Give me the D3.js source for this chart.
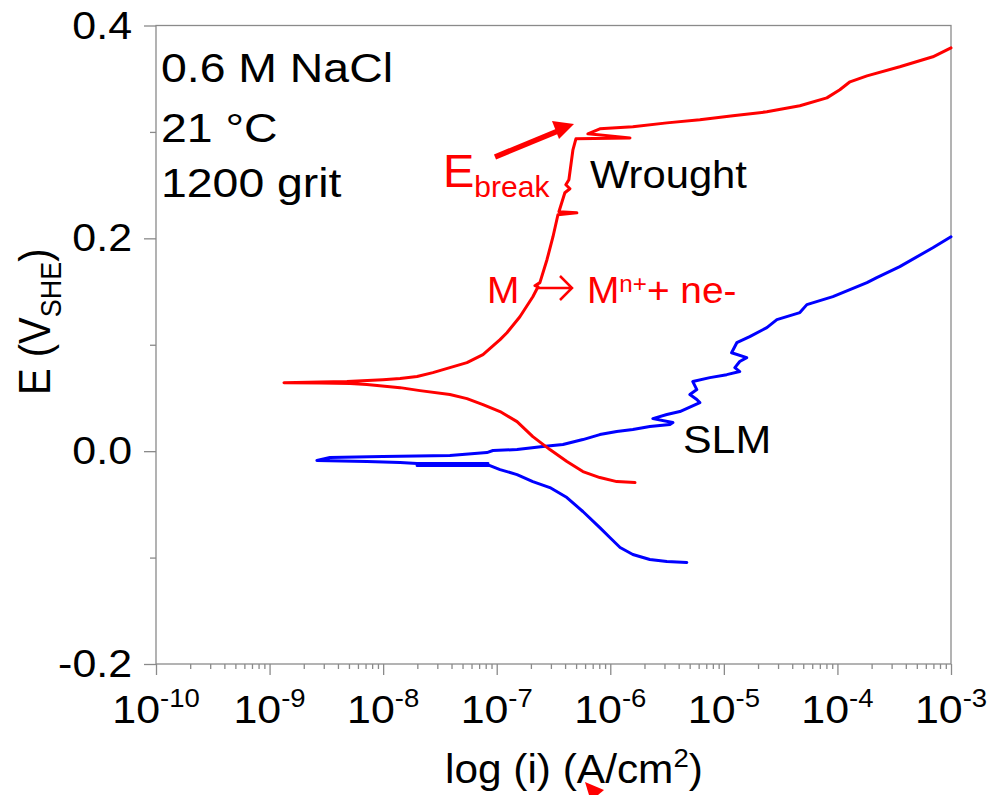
<!DOCTYPE html>
<html>
<head>
<meta charset="utf-8">
<script src="https://cdn.jsdelivr.net/npm/d3@7"></script>
<style>
  html, body { margin: 0; padding: 0; background: #fff; }
  svg { display: block; font-family: "Liberation Sans", Arial, sans-serif; }
</style>
</head>
<body>
<div id="chart"></div>
<script>
// Wrought: current density (A/cm2) and potential (V SHE), cathodic end -> anodic end
var wroughtI = [1.65e-6, 1.14e-6, 8.09e-7, 5.74e-7, 4.15e-7, 2.94e-7, 2.08e-7, 1.51e-7, 1.07e-7, 7.57e-8,
  5.47e-8, 3.87e-8, 2.11e-8, 1.41e-8, 7.19e-9, 5.11e-9, 2.78e-9, 1.34e-9, 2.78e-9, 4.80e-9,
  9.95e-9, 1.41e-8, 1.99e-8, 2.74e-8, 3.87e-8, 5.47e-8, 7.57e-8, 1.07e-7, 1.23e-7, 1.60e-7,
  2.08e-7, 2.31e-7, 2.17e-7, 2.40e-7, 2.77e-7, 3.13e-7, 3.46e-7, 5.08e-7, 3.53e-7, 3.98e-7,
  4.41e-7, 4.06e-7, 4.32e-7, 4.69e-7, 4.98e-7, 1.49e-6, 6.35e-7, 8.09e-7, 1.58e-6, 3.15e-6,
  6.15e-6, 1.20e-5, 2.39e-5, 4.67e-5, 8.07e-5, 1.05e-4, 1.29e-4, 1.82e-4, 3.54e-4, 6.92e-4, 1.0e-3];
var wroughtE = [-0.0295, -0.0286, -0.0248, -0.0192, -0.0098, 0.0015, 0.0137, 0.0278, 0.0372, 0.0438,
  0.0494, 0.0532, 0.0569, 0.0597, 0.0626, 0.0635, 0.0640, 0.0644, 0.0649, 0.0654,
  0.0672, 0.0682, 0.0701, 0.0738, 0.0785, 0.0832, 0.0907, 0.1048, 0.1113, 0.1263,
  0.1451, 0.1545, 0.1555, 0.1584, 0.1799, 0.2015, 0.2222, 0.2240, 0.2250, 0.2428,
  0.2466, 0.2504, 0.2551, 0.2832, 0.2935, 0.2944, 0.2982, 0.3029, 0.3048, 0.3085,
  0.3114, 0.3151, 0.3189, 0.3246, 0.3320, 0.3396, 0.3471, 0.3527, 0.3612, 0.3706, 0.3790];

// SLM
var slmI = [4.72e-6, 3.15e-6, 2.23e-6, 1.58e-6, 1.22e-6, 9.91e-7, 8.09e-7, 5.74e-7, 4.15e-7, 2.94e-7,
  2.08e-7, 1.51e-7, 1.07e-7, 8.71e-8, 1.99e-8, 8.38e-8, 1.99e-8, 1.41e-8, 7.19e-9, 2.61e-9,
  3.40e-9, 9.95e-9, 3.87e-8, 8.20e-8, 9.27e-8, 1.51e-7, 2.55e-7, 3.83e-7, 5.74e-7, 8.09e-7,
  1.14e-6, 1.58e-6, 2.23e-6, 3.35e-6, 3.56e-6, 2.37e-6, 3.15e-6, 4.10e-6, 6.15e-6, 5.78e-6,
  5.02e-6, 5.78e-6, 5.33e-6, 7.53e-6, 1.06e-5, 1.38e-5, 1.25e-5, 1.38e-5, 1.59e-5, 1.17e-5,
  1.30e-5, 1.69e-5, 2.39e-5, 2.93e-5, 4.67e-5, 5.38e-5, 9.12e-5, 1.82e-4, 2.22e-4, 3.54e-4,
  6.92e-4, 1.0e-3];
var slmE = [-0.1046, -0.1037, -0.1018, -0.0971, -0.0905, -0.0811, -0.0718, -0.0567, -0.0436, -0.0342,
  -0.0286, -0.0220, -0.0173, -0.0135, -0.0135, -0.0116, -0.0116, -0.0107, -0.0098, -0.0088,
  -0.0060, -0.0051, -0.0041, -0.0013, 0.0006, 0.0015, 0.0043, 0.0062, 0.0109, 0.0156,
  0.0184, 0.0203, 0.0231, 0.0250, 0.0269, 0.0306, 0.0344, 0.0372, 0.0456, 0.0485,
  0.0532, 0.0579, 0.0654, 0.0691, 0.0719, 0.0748, 0.0785, 0.0842, 0.0879, 0.0925,
  0.1019, 0.1076, 0.1161, 0.1236, 0.1302, 0.1377, 0.1452, 0.1583, 0.1630, 0.1734,
  0.1912, 0.2015];

var xMajorExp = [-10, -9, -8, -7, -6, -5, -4, -3];
var yMajor = [0.4, 0.2, 0.0, -0.2];
var yMajorLabels = ['0.4', '0.2', '0.0', '-0.2'];
var yMinor = [0.3, 0.1, -0.1];

(function () {
  var width = 1003, height = 795;
  var sx = 1.1; // the reference text is a little wider than Arial
  var axisColor = '#8a8a8a';
  var red = '#ff0000', blue = '#0000ff';

  var svg = d3.select('#chart').append('svg')
    .attr('width', width).attr('height', height)
    .attr('viewBox', [0, 0, width, height]);

  var x = d3.scaleLog().domain([1e-10, 1e-3]).range([156, 951]);
  var y = d3.scaleLinear().domain([-0.2, 0.4]).range([664, 25.5]);

  var xMinor = [];
  xMajorExp.slice(0, -1).forEach(function (e) {
    for (var k = 2; k <= 9; k++) xMinor.push(k * Math.pow(10, e));
  });

  // Ticks
  var gx = svg.append('g').attr('transform', 'translate(0,' + y(-0.2) + ')');
  gx.append('g').call(d3.axisBottom(x).tickValues(xMinor).tickSize(5).tickFormat(''));
  gx.append('g').call(d3.axisBottom(x).tickValues(xMajorExp.map(function (e) { return Math.pow(10, e); }))
    .tickSize(11).tickFormat(''));
  var gy = svg.append('g').attr('transform', 'translate(' + x(1e-10) + ',0)');
  gy.append('g').call(d3.axisLeft(y).tickValues(yMinor).tickSize(6).tickFormat(''));
  gy.append('g').call(d3.axisLeft(y).tickValues(yMajor).tickSize(12).tickFormat(''));
  svg.selectAll('.domain').remove();
  svg.selectAll('.tick line').attr('stroke', axisColor).attr('stroke-width', 1.3);

  // Frame
  svg.append('rect')
    .attr('x', x(1e-10)).attr('y', y(0.4))
    .attr('width', x(1e-3) - x(1e-10)).attr('height', y(-0.2) - y(0.4))
    .attr('fill', 'none').attr('stroke', axisColor).attr('stroke-width', 1.3);

  function label(px, py, sc, anchor) {
    return svg.append('g').attr('transform', 'translate(' + px + ',' + py + ') scale(' + sc + ',1)')
      .append('text').attr('text-anchor', anchor || 'start');
  }

  // Y tick labels
  yMajor.forEach(function (v, idx) {
    label(132, y(v) + 13, sx, 'end').attr('font-size', 39).attr('fill', '#000').text(yMajorLabels[idx]);
  });

  // X tick labels
  xMajorExp.forEach(function (e) {
    var t = label(x(Math.pow(10, e)), 723, sx, 'middle').attr('font-size', 39).attr('fill', '#000');
    t.append('tspan').text('10');
    t.append('tspan').attr('font-size', 25).attr('dy', -16).text(String(e));
  });

  // Axis titles
  var xt = label(445, 783, 1.06).attr('font-size', 40).attr('fill', '#000');
  xt.append('tspan').text('log (i) (A/cm');
  xt.append('tspan').attr('font-size', 26).attr('dy', -16).text('2');
  xt.append('tspan').attr('dy', 16).text(')');

  var yt = svg.append('g').attr('transform', 'translate(50,395) scale(1.12,1) rotate(-90)')
    .append('text').attr('font-size', 40).attr('fill', '#000');
  yt.append('tspan').text('E (V');
  yt.append('tspan').attr('font-size', 27).attr('dy', 10).text('SHE');
  yt.append('tspan').attr('dy', -10).text(')');

  // Curves
  var line = d3.line()
    .x(function (d) { return x(d[0]); })
    .y(function (d) { return y(d[1]); });

  svg.append('path')
    .datum(d3.zip(slmI, slmE))
    .attr('d', line)
    .attr('fill', 'none').attr('stroke', blue).attr('stroke-width', 3)
    .attr('stroke-linejoin', 'round').attr('stroke-linecap', 'round');

  svg.append('path')
    .datum(d3.zip(wroughtI, wroughtE))
    .attr('d', line)
    .attr('fill', 'none').attr('stroke', red).attr('stroke-width', 3)
    .attr('stroke-linejoin', 'round').attr('stroke-linecap', 'round');

  // Condition notes
  [['0.6 M NaCl', 82], ['21 \u00B0C', 142], ['1200 grit', 197]].forEach(function (n) {
    label(161, n[1], 1.16).attr('font-size', 40).attr('fill', '#000').text(n[0]);
  });

  label(590, 188, 1.07).attr('font-size', 39).attr('fill', '#000').text('Wrought');
  label(683, 453, 1.1).attr('font-size', 39).attr('fill', '#000').text('SLM');

  // E_break label and arrow
  var eb = label(443, 187, 1.0).attr('font-size', 47).attr('fill', red);
  eb.append('tspan').text('E');
  eb.append('tspan').attr('font-size', 30).attr('dy', 10).text('break');
  svg.append('line')
    .attr('x1', 495).attr('y1', 157).attr('x2', 558).attr('y2', 131)
    .attr('stroke', red).attr('stroke-width', 5.5);
  svg.append('path')
    .attr('d', 'M574,124 L552,121 L559,139 Z')
    .attr('fill', red);

  // Reaction label
  var r1 = label(487, 303, 1.05).attr('font-size', 37).attr('fill', red);
  r1.text('M');
  svg.append('path')
    .attr('d', 'M537,288 L572,288 M560,276 L572,288 L560,300')
    .attr('fill', 'none').attr('stroke', red).attr('stroke-width', 2.5);
  var r2 = label(587, 303, 1.05).attr('font-size', 37).attr('fill', red);
  r2.append('tspan').text('M');
  r2.append('tspan').attr('font-size', 23).attr('dy', -11).text('n+');
  r2.append('tspan').attr('dy', 11).text('+ ne-');

  // clipped arrowhead fragment at the bottom edge
  svg.append('path')
    .attr('d', 'M585,782 L604,790 L598,795 L589,795 Z')
    .attr('fill', red);
})();
</script>
</body>
</html>
